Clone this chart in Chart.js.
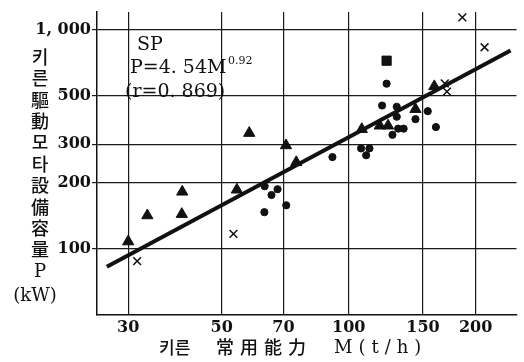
<!doctype html>
<html lang="ko">
  <head>
    <meta charset="UTF-8" />
    <title>키른 常用能力 vs 모타 設備容量</title>
    <script src="https://cdn.jsdelivr.net/npm/chart.js"></script>
    <style>
      body {
        margin: 0;
        background: #fff;
      }
      #wrap {
        width: 524px;
        height: 362px;
        position: relative;
      }
    </style>
  </head>
  <body>
    <div id="wrap"><canvas id="kilnChart"></canvas></div>

    <script>
      // tick labels
      const X_TICKS = [30, 50, 70, 100, 150, 200];
      const Y_TICKS = [100, 200, 300, 500, 1000];

      // ▲ points (M t/h, P kW)
      const triM = [30, 33.3, 40.3, 40.2, 58.1, 71, 75.1, 54.3, 107.4, 118.5, 124, 144, 159.6];
      const triP = [108, 142, 182, 144, 337, 296, 248, 186, 351, 364, 364, 433, 550];

      // ● points
      const dotM = [63.2, 67.8, 65.6, 63.1, 71.1, 91.5, 123, 120, 130, 130, 144, 154, 161, 127, 131, 135, 107, 112, 110];
      const dotP = [193, 187, 176, 147, 158, 262, 566, 450, 444, 400, 390, 424, 359, 331, 353, 353, 287, 287, 267];

      // ■ point
      const sqM = [123];
      const sqP = [720];

      // × points
      const crossM = [31.5, 53.3, 186, 210, 169, 171];
      const crossP = [88, 117, 1134, 829, 567, 521];

      // regression line ends
      const fitM = [26.7, 242];
      const fitP = [83, 801];

      const toXY = (xs, ys) => xs.map((x, i) => ({ x: x, y: ys[i] }));

      const serif = '"DejaVu Serif", "Liberation Serif", serif';
      const cjk = '"Noto Sans CJK KR", "Noto Sans CJK SC", sans-serif';

      const textPlugin = {
        id: "textPlugin",
        afterDraw(chart) {
          const ctx = chart.ctx;
          ctx.save();
          ctx.fillStyle = "#111";

          // vertical y title, upright characters
          const yChars = ["키", "른", "驅", "動", "모", "타", "設", "備", "容", "量"];
          ctx.textAlign = "center";
          ctx.textBaseline = "middle";
          ctx.font = "500 18px " + cjk;
          yChars.forEach((c, i) => ctx.fillText(c, 40, 57 + i * 21.4));
          ctx.font = "18px " + serif;
          ctx.fillText("P", 40, 272);
          ctx.fillText("(kW)", 35, 296);

          // x title
          ctx.textAlign = "left";
          ctx.textBaseline = "alphabetic";
          ctx.font = "500 17px " + cjk;
          ctx.fillText("키른", 159, 354);
          ctx.font = "500 18px " + cjk;
          ctx.letterSpacing = "6px";
          ctx.fillText("常用能力", 216, 354);
          ctx.font = "18px " + serif;
          ctx.letterSpacing = "6px";
          ctx.fillText("M(t/h)", 334, 353);
          ctx.letterSpacing = "0px";

          // equation box text
          ctx.font = "19px " + serif;
          ctx.fillText("SP", 137, 50);
          ctx.fillText("P=4. 54M", 130, 73);
          ctx.font = "11px " + serif;
          ctx.fillText("0.92", 228, 64);
          ctx.font = "19px " + serif;
          ctx.fillText("(r=0. 869)", 125, 97);
          ctx.restore();
        },
      };

      new Chart(document.getElementById("kilnChart").getContext("2d"), {
        type: "scatter",
        data: {
          datasets: [
            {
              label: "fit",
              data: toXY(fitM, fitP),
              showLine: true,
              borderColor: "#111",
              borderWidth: 4,
              pointRadius: 0,
              order: 5,
            },
            {
              label: "triangle",
              data: toXY(triM, triP),
              pointStyle: "triangle",
              pointRadius: 6.5,
              backgroundColor: "#111",
              borderColor: "#111",
              borderWidth: 1,
              order: 0,
            },
            {
              label: "circle",
              data: toXY(dotM, dotP),
              pointStyle: "circle",
              pointRadius: 3.6,
              backgroundColor: "#111",
              borderColor: "#111",
              borderWidth: 1,
              order: 0,
            },
            {
              label: "square",
              data: toXY(sqM, sqP),
              pointStyle: "rect",
              pointRadius: 6.5,
              backgroundColor: "#111",
              borderColor: "#111",
              order: 0,
            },
            {
              label: "cross",
              data: toXY(crossM, crossP),
              pointStyle: "crossRot",
              pointRadius: 5.5,
              borderColor: "#111",
              borderWidth: 1.5,
              order: 0,
            },
          ],
        },
        options: {
          responsive: true,
          maintainAspectRatio: false,
          animation: false,
          layout: { padding: { top: 12, right: 3, left: 0, bottom: 0 } },
          plugins: {
            legend: { display: false },
            tooltip: { enabled: false },
          },
          scales: {
            x: {
              type: "logarithmic",
              min: 25.3,
              max: 250,
              afterBuildTicks: (axis) => {
                axis.ticks = X_TICKS.map((v) => ({ value: v }));
              },
              afterFit: (scale) => {
                scale.height = 47;
              },
              grid: { color: "#1a1a1a", lineWidth: 1.2, drawTicks: false },
              border: { color: "#111", width: 1.5 },
              ticks: {
                autoSkip: false,
                maxRotation: 0,
                padding: 3,
                color: "#111",
                font: { family: serif, size: 16, weight: "bold" },
                callback: (v) => String(v),
              },
            },
            y: {
              type: "logarithmic",
              min: 50,
              max: 1200,
              afterBuildTicks: (axis) => {
                axis.ticks = Y_TICKS.map((v) => ({ value: v }));
              },
              afterFit: (scale) => {
                scale.width = 97;
              },
              grid: { color: "#1a1a1a", lineWidth: 1.2, tickLength: 5 },
              border: { color: "#111", width: 1.5 },
              ticks: {
                autoSkip: false,
                padding: 1,
                color: "#111",
                font: { family: serif, size: 16, weight: "bold" },
                callback: (v) => (v === 1000 ? "1, 000" : String(v)),
              },
            },
          },
        },
        plugins: [textPlugin],
      });
    </script>
  </body>
</html>
